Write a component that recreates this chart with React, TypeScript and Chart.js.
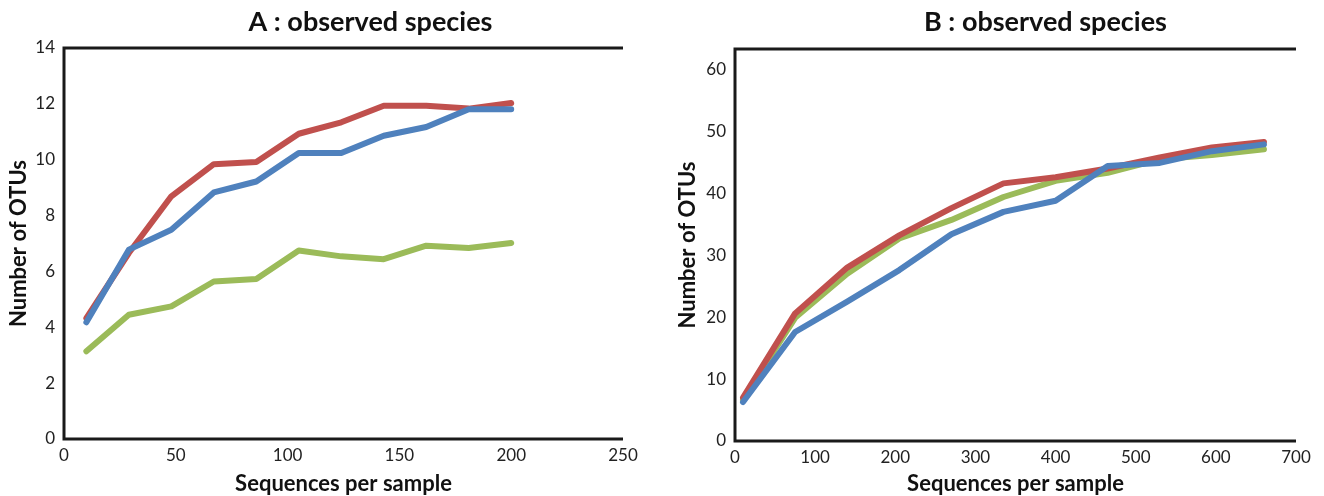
import React, { useEffect, useRef } from "react";
import { Chart, registerables } from "chart.js";

Chart.register(...registerables);

// Panel A data
const seqA = [10, 29, 48, 67, 86, 105, 124, 143, 162, 181, 200];
const blueA = [4.18, 6.78, 7.49, 8.83, 9.22, 10.24, 10.24, 10.86, 11.17, 11.81, 11.81];
const redA = [4.33, 6.66, 8.69, 9.84, 9.92, 10.93, 11.34, 11.93, 11.93, 11.83, 12.03];
const greenA = [3.14, 4.45, 4.75, 5.64, 5.73, 6.75, 6.54, 6.44, 6.92, 6.84, 7.02];

// Panel B data
const seqB = [10, 75, 140, 205, 270, 335, 400, 465, 530, 595, 660];
const blueB = [6.3, 17.6, 22.5, 27.6, 33.4, 37.0, 38.8, 44.4, 44.9, 46.8, 47.9];
const redB = [7.0, 20.6, 28.0, 33.2, 37.6, 41.6, 42.6, 44.0, 45.8, 47.4, 48.3];
const greenB = [6.7, 19.9, 27.0, 32.7, 35.7, 39.4, 42.0, 43.3, 45.5, 46.2, 47.1];

const titleA = "A : observed species";
const titleB = "B : observed species";
const xTitle = "Sequences per sample";
const yTitle = "Number of OTUs";

const COLORS = { blue: "#4F81BD", red: "#C0504D", green: "#9BBB59" };
const FONT = "Lato, 'Open Sans', sans-serif";

const framePlugin = {
  id: "frame",
  beforeDatasetsDraw(chart: any) {
    const { ctx, chartArea: a } = chart;
    ctx.save();
    ctx.strokeStyle = "#1a1a1a";
    ctx.lineWidth = 3;
    ctx.lineCap = "butt";
    ctx.beginPath();
    ctx.moveTo(a.right, a.top);
    ctx.lineTo(a.left, a.top);
    ctx.lineTo(a.left, a.bottom);
    ctx.lineTo(a.right, a.bottom);
    ctx.stroke();
    ctx.restore();
  },
  afterDraw(chart: any) {
    const o = chart.options.plugins.texts;
    const { ctx, chartArea: a } = chart;
    const cx = (a.left + a.right) / 2;
    const cy = (a.top + a.bottom) / 2;
    ctx.save();
    ctx.fillStyle = "#111";
    ctx.textAlign = "center";
    ctx.textBaseline = "middle";
    ctx.font = `bold 27px ${FONT}`;
    ctx.fillText(o.title, cx + o.titleDx, o.titleY);
    ctx.font = `bold 22px ${FONT}`;
    ctx.fillText(o.xTitle, cx, o.xTitleY);
    ctx.translate(a.left - o.yTitleDx, cy);
    ctx.rotate(-Math.PI / 2);
    ctx.fillText(o.yTitle, 0, 0);
    ctx.restore();
  },
};

function makeConfig(
  seq: number[],
  blue: number[],
  red: number[],
  green: number[],
  xMax: number,
  xStep: number,
  yMax: number,
  yStep: number,
  yWidth: number,
  xHeight: number,
  padding: any,
  texts: any
): any {
  const toPts = (ys: number[]) => seq.map((x, i) => ({ x, y: ys[i] }));
  const ds = (label: string, data: number[], color: string) => ({
    label,
    data: toPts(data),
    borderColor: color,
    backgroundColor: color,
    borderWidth: 6,
    pointRadius: 0,
    borderCapStyle: "round",
    borderJoinStyle: "round",
    tension: 0,
  });
  return {
    type: "line",
    data: {
      datasets: [ds("Blue", blue, COLORS.blue), ds("Red", red, COLORS.red), ds("Green", green, COLORS.green)],
    },
    plugins: [framePlugin],
    options: {
      animation: false,
      responsive: false,
      maintainAspectRatio: false,
      layout: { padding },
      plugins: {
        legend: { display: false },
        tooltip: { enabled: false },
        title: { display: false },
        texts,
      },
      scales: {
        x: {
          type: "linear",
          min: 0,
          max: xMax,
          grid: { display: false, drawTicks: false },
          border: { display: false },
          ticks: {
            stepSize: xStep,
            padding: 6,
            color: "#222",
            font: { family: FONT, size: 17 },
            maxRotation: 0,
          },
          afterFit(scale: any) {
            scale.height = xHeight;
          },
        },
        y: {
          type: "linear",
          min: 0,
          max: yMax,
          grid: { display: false, drawTicks: false },
          border: { display: false },
          ticks: {
            stepSize: yStep,
            padding: 9,
            includeBounds: false,
            color: "#222",
            font: { family: FONT, size: 17 },
          },
          afterFit(scale: any) {
            scale.width = yWidth;
          },
        },
      },
    },
  };
}

function Panel(props: { config: any; left: number; width: number; height: number }) {
  const ref = useRef<HTMLCanvasElement | null>(null);
  useEffect(() => {
    if (!ref.current) return;
    const chart = new Chart(ref.current, props.config);
    return () => chart.destroy();
  }, []);
  return (
    <div style={{ position: "absolute", left: props.left, top: 0, width: props.width, height: props.height }}>
      <canvas ref={ref} width={props.width} height={props.height} style={{ width: props.width, height: props.height }} />
    </div>
  );
}

export default function App() {
  const cfgA = makeConfig(seqA, blueA, redA, greenA, 250, 50, 14, 2, 64, 57,
    { left: 0, right: 39, top: 48, bottom: 0 },
    { title: titleA, titleDx: 27, titleY: 22, xTitle, xTitleY: 484, yTitle, yTitleDx: 45 });
  const cfgB = makeConfig(seqB, blueB, redB, greenB, 700, 100, 63.3, 10, 73, 55,
    { left: 0, right: 28, top: 49, bottom: 0 },
    { title: titleB, titleDx: 30, titleY: 22, xTitle, xTitleY: 484, yTitle, yTitleDx: 47 });
  return (
    <div style={{ position: "absolute", left: 0, top: 0, width: 1324, height: 496, background: "#fff", overflow: "hidden" }}>
      <Panel config={cfgA} left={0} width={662} height={496} />
      <Panel config={cfgB} left={662} width={662} height={496} />
    </div>
  );
}
